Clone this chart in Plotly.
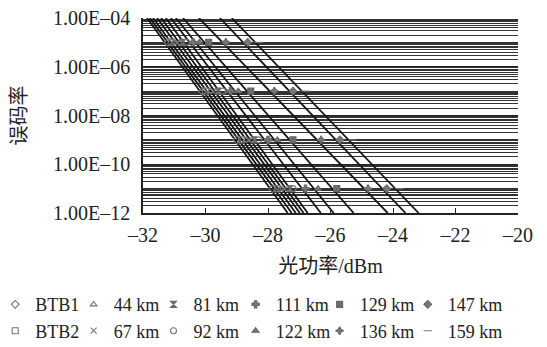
import plotly.graph_objects as go

# Series in legend order (column by column: top row, bottom row)
names = ["BTB1", "44 km", "81 km", "111 km", "129 km", "147 km",
         "BTB2", "67 km", "92 km", "122 km", "136 km", "159 km"]
symbols = ["diamond-open", "triangle-up-open", "hourglass", "cross", "square-x", "diamond",
           "square-open", "x-thin-open", "circle-open", "triangle-up", "star-diamond", "line-ew-open"]

# fitted lines: received power (dBm) at BER 1e-4 and at BER 1e-12
fit_ber = [1e-4, 1e-12]
fit_top = [-31.87, -31.68, -31.42, -31.11, -30.72, -29.54,
           -31.78, -31.55, -31.27, -30.95, -30.21, -29.16]
fit_bottom = [-27.37, -27.11, -26.86, -26.31, -25.26, -23.60,
              -27.24, -26.98, -26.73, -25.90, -24.17, -23.18]

# measured points (dBm) at BER 1e-5, 1e-7, 1e-9, 1e-11
meas_ber = [1e-5, 1e-7, 1e-9, 1e-11]
meas_power = [
    [-31.20, -30.10, -29.00, -27.85],
    [-31.00, -29.85, -28.70, -27.60],
    [-30.75, -29.60, -28.45, -27.30],
    [-30.40, -29.20, -28.00, -26.80],
    [-29.90, -28.55, -27.20, -25.80],
    [-28.65, -27.20, -25.70, -24.20],
    [-31.10, -30.00, -28.85, -27.70],
    [-30.90, -29.75, -28.60, -27.45],
    [-30.60, -29.45, -28.30, -27.20],
    [-30.20, -28.95, -27.70, -26.40],
    [-29.35, -27.80, -26.30, -24.80],
    [-28.30, -26.80, -25.30, -23.80],
]

x_ticks = [-32, -30, -28, -26, -24, -22, -20]
x_ticktext = ["\u201332", "\u201330", "\u201328", "\u201326", "\u201324", "\u201322", "\u201320"]
y_ticks = [1e-12, 1e-10, 1e-8, 1e-6, 1e-4]
y_ticktext = ["1.00E\u201312", "1.00E\u201310", "1.00E\u201308", "1.00E\u201306", "1.00E\u201304"]

# one small vertical legend per column, at these paper-x positions
legend_col_x = [-0.394, -0.185, 0.028, 0.247, 0.471, 0.706]

serif = "Liberation Serif, Noto Sans CJK SC, serif"

fig = go.Figure()
for i, n in enumerate(names):
    fig.add_trace(go.Scatter(
        x=[fit_top[i], fit_bottom[i]], y=fit_ber, mode="lines",
        line=dict(color="#151515", width=1.8), showlegend=False, hoverinfo="skip"))
for i, n in enumerate(names):
    col = i % 6
    fig.add_trace(go.Scatter(
        x=meas_power[i], y=meas_ber, mode="markers", name=n,
        legend="legend" if col == 0 else "legend%d" % (col + 1),
        marker=dict(symbol=symbols[i], size=6, color="#777777",
                    line=dict(color="#666666", width=1.1))))

minor_vals = [k * 10.0 ** e for e in range(-12, -4) for k in range(1, 10)]

legend_common = dict(orientation="v", xanchor="left", y=-0.375, yanchor="top",
                     font=dict(size=18, family=serif), itemwidth=30,
                     bgcolor="rgba(0,0,0,0)", tracegroupgap=0)
legends = {}
for c in range(6):
    key = "legend" if c == 0 else "legend%d" % (c + 1)
    legends[key] = dict(legend_common, x=legend_col_x[c])

# page body has an 8px margin, so the figure is 8px smaller than the window
fig.update_layout(
    width=539, height=339,
    margin=dict(l=135, r=29, t=10, b=134, autoexpand=False),
    paper_bgcolor="white", plot_bgcolor="white",
    font=dict(family=serif, size=18, color="#222"),
    xaxis=dict(range=[-32, -20], tickmode="array", tickvals=x_ticks, ticktext=x_ticktext,
               showgrid=False, zeroline=False, showline=True, linecolor="#222", linewidth=1.5,
               ticks="inside", ticklen=5, tickcolor="#222", ticklabelstandoff=3,
               ticklabeloverflow="allow",
               tickfont=dict(size=20, family=serif), automargin=False,
               title=dict(text="光功率/dBm", font=dict(size=20, family=serif), standoff=14)),
    yaxis=dict(type="log", range=[-12, -4], tickmode="array", tickvals=y_ticks, ticktext=y_ticktext,
               showgrid=True, gridcolor="#222", gridwidth=1,
               minor=dict(tickmode="array", tickvals=minor_vals, showgrid=True,
                          gridcolor="#333", gridwidth=0.8, ticks=""),
               zeroline=False, showline=True, linecolor="#222", linewidth=1.5,
               ticks="", ticklabelstandoff=7, automargin=False,
               ticklabeloverflow="allow",
               tickfont=dict(size=20, family=serif),
               title=dict(text="误码率", font=dict(size=20, family=serif), standoff=24)),
    **legends,
)

fig.write_html("out.html")
